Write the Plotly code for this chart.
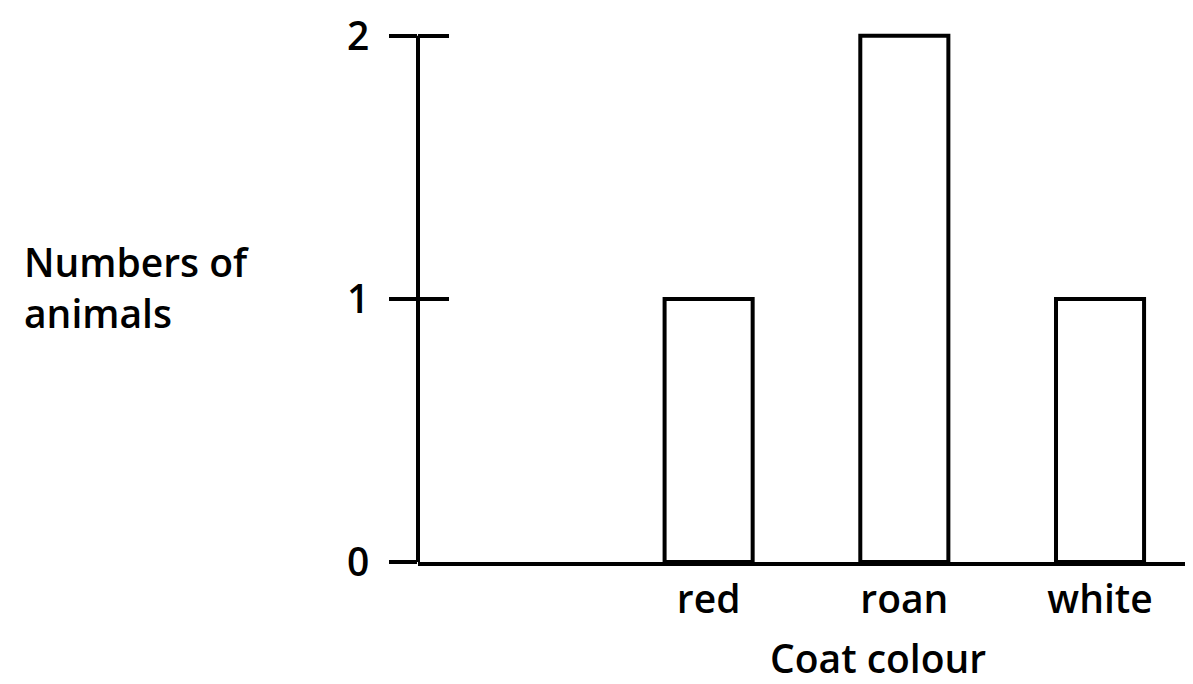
import plotly.graph_objects as go

# coat colour counts
coat_colours = ["red", "roan", "white"]
animal_counts = [1, 2, 1]
y_tick_vals = [0, 1, 2]
y_tick_text = ["0", "1", "2"]

FONT = "Open Sans"
FSIZE = 39

# the page puts the figure 8px in from the top-left corner
fig = go.Figure(
    go.Bar(
        x=coat_colours,
        y=animal_counts,
        width=0.45,
        marker=dict(color="white", line=dict(color="black", width=4)),
        showlegend=False,
        hoverinfo="x+y",
    )
)

# dummy trace so the overlaying axis (inner tick halves) gets drawn
fig.add_trace(
    go.Scatter(x=coat_colours, y=animal_counts, yaxis="y2", mode="none",
               showlegend=False, hoverinfo="skip")
)

fig.update_layout(
    width=1185,
    height=676,
    margin=dict(l=410, r=0, t=0, b=122),
    paper_bgcolor="white",
    plot_bgcolor="white",
    font=dict(family=FONT, size=FSIZE, color="black", weight=600),
    xaxis=dict(
        range=[-1.485, 2.475],
        showline=True,
        linecolor="black",
        linewidth=4,
        showgrid=False,
        zeroline=False,
        ticks="",
        ticklabelstandoff=0,
    ),
    yaxis=dict(
        range=[0, 2.0945],
        tickvals=y_tick_vals,
        ticktext=y_tick_text,
        ticks="outside",
        ticklen=28,
        tickwidth=4,
        tickcolor="black",
        showline=False,
        showgrid=False,
        zeroline=False,
        ticklabelstandoff=12,
        ticklabeloverflow="allow",
    ),
    yaxis2=dict(
        range=[0, 2.0945],
        overlaying="y",
        side="left",
        anchor="x",
        tickvals=y_tick_vals,
        ticks="inside",
        ticklen=31,
        tickwidth=4,
        tickcolor="black",
        showticklabels=False,
        showline=False,
        showgrid=False,
        zeroline=False,
    ),
    shapes=[
        dict(type="line", xref="paper", yref="y", x0=0, x1=0, y0=0, y1=2,
             line=dict(color="black", width=4)),
    ],
    annotations=[
        dict(text="Numbers of<br>animals", xref="paper", yref="paper",
             x=-(418 - 22) / 775, y=(554 - 277) / 554,
             xanchor="left", yanchor="middle", align="left",
             showarrow=False),
        dict(text="Coat colour", xref="paper", yref="paper",
             x=(878 - 418) / 775, y=-(650 - 554) / 554,
             xanchor="center", yanchor="middle",
             showarrow=False),
    ],
)

fig.write_html("out.html")
